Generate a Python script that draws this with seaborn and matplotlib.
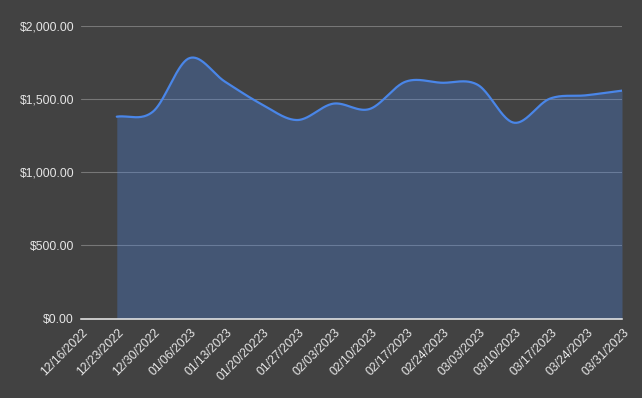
import numpy as np
import pandas as pd
import matplotlib
matplotlib.use('Agg')
import matplotlib.pyplot as plt
from matplotlib.transforms import ScaledTranslation
from matplotlib.ticker import FuncFormatter
import seaborn as sns

# weekly dates (labels as shown in the chart, typo included)
week_labels = ['12/16/2022', '12/23/2022', '12/30/2022', '01/06/2023', '01/13/2023',
               '01/20/20223', '01/27/2023', '02/03/2023', '02/10/2023', '02/17/2023',
               '02/24/2023', '03/03/2023', '03/10/2023', '03/17/2023', '03/24/2023',
               '03/31/2023']
# amounts, first week has no value
amounts = [np.nan, 1380, 1414, 1779, 1619, 1467, 1357, 1469, 1432, 1619,
           1612, 1598, 1339, 1503, 1526, 1558]

bg = '#424242'
blue = '#4a86e8'
txt = '#e6e6e6'

df = pd.DataFrame({'week': week_labels, 'amount': amounts})
df['pos'] = np.arange(len(df))
pts = df.dropna()


def smooth_curve(x, y, n=40):
    # cubic hermite with catmull-rom tangents, like the sheets "smooth" option
    x = np.asarray(x, float)
    y = np.asarray(y, float)
    m = np.gradient(y, x)
    xs, ys = [], []
    for i in range(len(x) - 1):
        h = x[i + 1] - x[i]
        t = np.linspace(0, 1, n, endpoint=False)
        h00 = 2 * t**3 - 3 * t**2 + 1
        h10 = t**3 - 2 * t**2 + t
        h01 = -2 * t**3 + 3 * t**2
        h11 = t**3 - t**2
        xs.append(x[i] + t * h)
        ys.append(h00 * y[i] + h10 * h * m[i] + h01 * y[i + 1] + h11 * h * m[i + 1])
    xs.append([x[-1]])
    ys.append([y[-1]])
    return np.concatenate(xs), np.concatenate(ys)


sx, sy = smooth_curve(pts['pos'], pts['amount'])
curve = pd.DataFrame({'pos': sx, 'amount': sy})

sns.set_style('dark', {'axes.facecolor': bg, 'figure.facecolor': bg})
plt.rcParams['font.family'] = ['Liberation Sans', 'DejaVu Sans']

fig = plt.figure(figsize=(6.42, 3.98), dpi=100)
ax = fig.add_axes([80.7 / 642, 1 - 318.5 / 398, 541.3 / 642, 292.5 / 398])
ax.set_facecolor(bg)

ax.fill_between(curve['pos'], 0, curve['amount'], color=blue, alpha=0.3, lw=0, zorder=2)
sns.lineplot(data=curve, x='pos', y='amount', color=blue, linewidth=1.6, ax=ax, zorder=3)

ax.set_xlim(0, len(week_labels) - 1)
ax.set_ylim(0, 2000)
ax.set_yticks([0, 500, 1000, 1500, 2000])
ax.yaxis.set_major_formatter(FuncFormatter(lambda v, p: '${:,.2f}'.format(v)))
ax.grid(axis='y', color='#777777', linewidth=0.8)
ax.grid(axis='x', visible=False)
ax.set_axisbelow(True)

ax.set_xticks(df['pos'])
ax.set_xticklabels(df['week'], rotation=45, ha='right', va='top', rotation_mode='anchor')
ax.tick_params(axis='x', length=0, pad=6.0, labelsize=8.7, colors=txt)
ax.tick_params(axis='y', length=0, pad=4.8, labelsize=8.7, colors=txt)
shift = ScaledTranslation(1.5 / 100, 0, fig.dpi_scale_trans)
for lab in ax.get_xticklabels():
    lab.set_transform(lab.get_transform() + shift)

ax.set_xlabel('')
ax.set_ylabel('')
for s in ['top', 'right', 'left']:
    ax.spines[s].set_visible(False)
ax.spines['bottom'].set_color('#eeeeee')
ax.spines['bottom'].set_linewidth(1.1)
ax.spines['bottom'].set_zorder(4)

fig.savefig('out.png', dpi=100, facecolor=bg)
